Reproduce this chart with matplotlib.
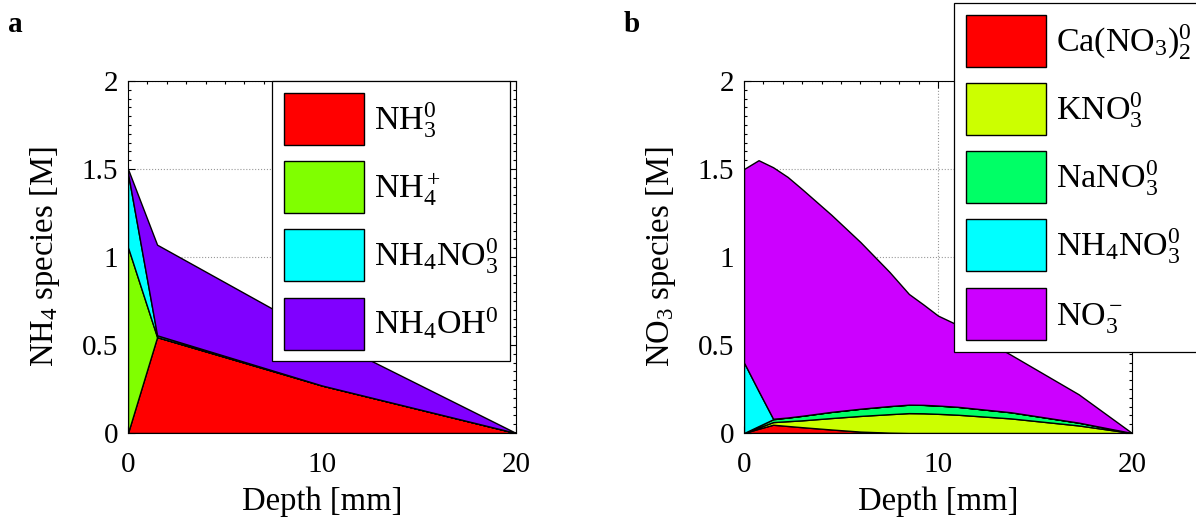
import numpy as np
import matplotlib
matplotlib.use("Agg")
import matplotlib.pyplot as plt
from matplotlib.ticker import MultipleLocator, FormatStrFormatter

plt.rcParams['font.family'] = ['Liberation Serif', 'DejaVu Serif']
plt.rcParams['mathtext.fontset'] = 'custom'
plt.rcParams['mathtext.rm'] = 'Liberation Serif'
plt.rcParams['mathtext.it'] = 'Liberation Serif:italic'
plt.rcParams['mathtext.bf'] = 'Liberation Serif:bold'

# panel a : NH4 species
depth_a = [0, 1.5, 10, 20]
nh3 = [0, 0.545, 0.27, 0]
nh4 = [1.055, 0.0, 0, 0]
nh4no3_a = [0.42, 0.01, 0, 0]
nh4oh = [0.025, 0.515, 0.28, 0]
labels_a = [r'NH$_3^0$', r'NH$_4^+$', r'NH$_4$NO$_3^0$', r'NH$_4$OH$^0$']
colors_a = ['#ff0000', '#80ff00', '#00ffff', '#8000ff']

# panel b : NO3 species
depth_b = [0, 0.75, 1.5, 2.25, 3, 4.5, 6, 7.5, 8.5, 9.25, 10, 11, 13.75, 17.25, 20]
cano3 = [0, 0.024, 0.047, 0.040, 0.033, 0.020, 0.008, 0.002, 0, 0, 0, 0, 0, 0, 0]
kno3 = [0, 0.007, 0.015, 0.027, 0.039, 0.065, 0.089, 0.105, 0.113, 0.112, 0.109, 0.104, 0.083, 0.043, 0]
nano3 = [0, 0.008, 0.016, 0.021, 0.026, 0.035, 0.041, 0.046, 0.048, 0.048, 0.047, 0.045, 0.035, 0.016, 0]
nh4no3_b = [0.40, 0.20, 0.003, 0, 0, 0, 0, 0, 0, 0, 0, 0, 0, 0, 0]
no3 = [1.10, 1.311, 1.429, 1.367, 1.287, 1.12, 0.947, 0.762, 0.629, 0.57, 0.511, 0.466, 0.327, 0.161, 0]
labels_b = [r'Ca(NO$_3$)$_2^0$', r'KNO$_3^0$', r'NaNO$_3^0$', r'NH$_4$NO$_3^0$', r'NO$_3^-$']
colors_b = ['#ff0000', '#ccff00', '#00ff66', '#00ffff', '#cc00ff']

fig = plt.figure(figsize=(11.96, 5.18), dpi=100)
ax1 = fig.add_axes([128/1196, 85/518, 388/1196, 352/518])
ax2 = fig.add_axes([744/1196, 85/518, 388/1196, 352/518])


def style(ax, ylab):
    ax.set_xlim(0, 20)
    ax.set_ylim(0, 2)
    ax.xaxis.set_major_locator(MultipleLocator(10))
    ax.xaxis.set_minor_locator(MultipleLocator(1))
    ax.yaxis.set_major_locator(MultipleLocator(0.5))
    ax.yaxis.set_minor_locator(MultipleLocator(0.05))
    ax.yaxis.set_major_formatter(FormatStrFormatter('%g'))
    ax.tick_params(which='both', direction='in', top=True, right=True,
                   width=0.8, labelsize=21)
    ax.tick_params(which='major', length=5)
    ax.tick_params(which='minor', length=2.5)
    ax.tick_params(axis='x', pad=14)
    ax.tick_params(axis='y', pad=7)
    ax.grid(True, which='major', linestyle=':', color='#999999', lw=0.8)
    ax.set_axisbelow(True)
    ax.set_xlabel('Depth [mm]', fontsize=23.5, labelpad=6)
    ax.set_ylabel(ylab, fontsize=23.5, labelpad=14)
    for s in ax.spines.values():
        s.set_linewidth(0.8)


def legend(ax, anchor, loc):
    leg = ax.legend(loc=loc, bbox_to_anchor=anchor, fontsize=24.5,
                    handlelength=2.35, handleheight=1.97, handletextpad=0.29,
                    labelspacing=0.48, borderpad=0.35, borderaxespad=0,
                    fancybox=False, framealpha=1, edgecolor='k')
    leg.get_frame().set_linewidth(0.9)
    return leg


ax1.stackplot(depth_a, nh3, nh4, nh4no3_a, nh4oh, colors=colors_a,
              labels=labels_a, edgecolor='k', linewidth=1.0)
style(ax1, r'NH$_4$ species [M]')
legend(ax1, (0.985, 1.0), 'upper right')

ax2.stackplot(depth_b, cano3, kno3, nano3, nh4no3_b, no3, colors=colors_b,
              labels=labels_b, edgecolor='k', linewidth=1.0)
style(ax2, r'NO$_3$ species [M]')
legend(ax2, (0.541, 1.222), 'upper left')

fig.text(8/1196, 1 - 24/518, 'a', fontsize=21, fontweight='bold', va='center')
fig.text(624/1196, 1 - 24/518, 'b', fontsize=21, fontweight='bold', va='center')

fig.savefig('out.png', dpi=100)
